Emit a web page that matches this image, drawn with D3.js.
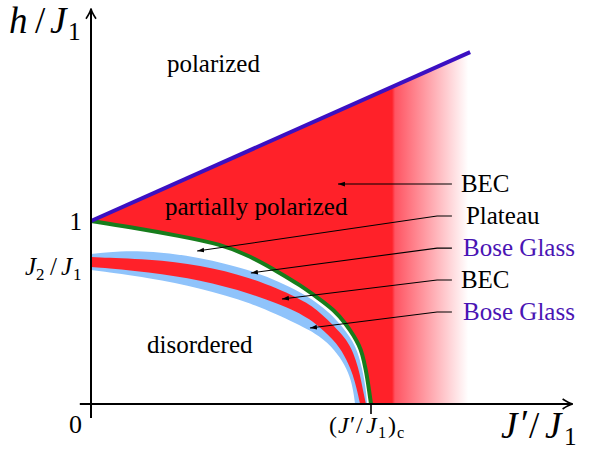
<!DOCTYPE html>
<html>
<head>
<meta charset="utf-8">
<script src="https://cdn.jsdelivr.net/npm/d3@7"></script>
<style>
body { margin: 0; background: #fff; }
text { font-family: "Liberation Serif", "DejaVu Serif", serif; }
</style>
</head>
<body>
<div id="chart"></div>
<script>
// phase boundaries, as [J'/J1, h/J1]
const saturationLine = [[0, 1], [1.354, 1.923]];
const plateauEdge = [[0, 1], [0.139, 0.967], [0.318, 0.918], [0.461, 0.874], [0.568, 0.809],
  [0.675, 0.716], [0.746, 0.650], [0.811, 0.579], [0.868, 0.514], [0.911, 0.437],
  [0.939, 0.372], [0.957, 0.322], [0.968, 0.279], [0.982, 0.186], [0.993, 0.077], [1, 0]];
const glassTop = [[0, 0.820], [0.104, 0.836], [0.211, 0.836], [0.389, 0.803], [0.568, 0.732],
  [0.675, 0.667], [0.746, 0.612], [0.804, 0.557], [0.854, 0.497], [0.896, 0.426],
  [0.925, 0.366], [0.943, 0.317], [0.957, 0.262], [0.971, 0.175], [0.982, 0.077], [0.986, 0]];
const becTop = [[0, 0.803], [0.211, 0.792], [0.389, 0.760], [0.568, 0.694], [0.746, 0.579],
  [0.818, 0.503], [0.871, 0.421], [0.907, 0.361], [0.929, 0.306], [0.946, 0.240],
  [0.961, 0.158], [0.971, 0.077], [0.982, 0]];
const becBottom = [[0, 0.749], [0.211, 0.721], [0.389, 0.678], [0.568, 0.607], [0.746, 0.503],
  [0.818, 0.421], [0.879, 0.333], [0.914, 0.240], [0.936, 0.158], [0.95, 0.077], [0.961, 0]];
const glassBottom = [[0, 0.732], [0.211, 0.689], [0.389, 0.634], [0.568, 0.557], [0.746, 0.432],
  [0.818, 0.372], [0.871, 0.295], [0.907, 0.213], [0.929, 0.131], [0.939, 0.049], [0.943, 0]];
const fadeFrom = 1.075;   // where the red BEC region starts to fade out

// region names
const regionNames = ["polarized", "partially polarized", "disordered"];
const regionPos = [[0.271, 1.814], [0.264, 1.033], [0.2, 0.279]];

// callouts on the right
const calloutNames = ["BEC", "Plateau", "Bose Glass", "BEC", "Bose Glass"];
const calloutColors = ["#000", "#000", "#4a14b4", "#000", "#4a14b4"];
const calloutLevel = [1.202, 1.027, 0.852, 0.678, 0.503];
const calloutTextX = [1.321, 1.339, 1.329, 1.321, 1.329];
const calloutTips = [[0.882, 1.202], [0.379, 0.836], [0.571, 0.716], [0.682, 0.574], [0.782, 0.415]];

const width = 590, height = 452;

const svg = d3.select("#chart").append("svg")
  .attr("width", width).attr("height", height)
  .attr("viewBox", [0, 0, width, height]);

const x = d3.scaleLinear().domain([0, 1]).range([91, 371]);
const y = d3.scaleLinear().domain([0, 1]).range([404, 221]);

const red = "#ff2129", lightBlue = "#8fc3fb";

const defs = svg.append("defs");
const xEnd = saturationLine[1][0];
const grad = defs.append("linearGradient")
  .attr("id", "fade").attr("gradientUnits", "userSpaceOnUse")
  .attr("x1", x(0)).attr("x2", x(xEnd)).attr("y1", 0).attr("y2", 0);
const fo = fadeFrom / xEnd;
grad.append("stop").attr("offset", 0).attr("stop-color", red);
grad.append("stop").attr("offset", fo).attr("stop-color", red);
grad.append("stop").attr("offset", fo + 0.008).attr("stop-color", "#ff5462");
grad.append("stop").attr("offset", 0.995).attr("stop-color", "#ffffff");

defs.append("marker").attr("id", "tip")
  .attr("markerUnits", "userSpaceOnUse")
  .attr("markerWidth", 8).attr("markerHeight", 6)
  .attr("refX", 7).attr("refY", 3).attr("orient", "auto")
  .append("path").attr("d", "M0,0.6L7,3L0,5.4Z").attr("fill", "#000");

const curve = d3.line().x(d => x(d[0])).y(d => y(d[1])).curve(d3.curveBasis);
// closes a boundary down to the origin corner
const under = pts => curve(pts) + `L${x(0)},${y(0)}Z`;

// red wedge under the saturation line
svg.append("path")
  .attr("d", `M${x(0)},${y(0)}L${x(0)},${y(1)}L${x(xEnd)},${y(saturationLine[1][1])}L${x(xEnd)},${y(0)}Z`)
  .attr("fill", "url(#fade)");

// layered bands, from the plateau edge inwards
svg.append("path").attr("d", under(plateauEdge)).attr("fill", "#fff");
svg.append("path").attr("d", under(glassTop)).attr("fill", lightBlue);
svg.append("path").attr("d", under(becTop)).attr("fill", red);
svg.append("path").attr("d", under(becBottom)).attr("fill", lightBlue);
svg.append("path").attr("d", under(glassBottom)).attr("fill", "#fff");

svg.append("path").attr("d", curve(plateauEdge))
  .attr("fill", "none").attr("stroke", "#177d1c").attr("stroke-width", 4);

svg.append("path").attr("d", d3.line().x(d => x(d[0])).y(d => y(d[1]))(saturationLine))
  .attr("fill", "none").attr("stroke", "#3b10c2").attr("stroke-width", 4);

// axes with arrow heads
const axisG = svg.append("g").attr("stroke", "#000").attr("fill", "none");
axisG.append("line").attr("x1", x(0)).attr("x2", x(0)).attr("y1", y(-0.077)).attr("y2", y(2.16))
  .attr("stroke-width", 2);
axisG.append("line").attr("x1", x(-0.04)).attr("x2", x(1.72)).attr("y1", y(0)).attr("y2", y(0))
  .attr("stroke-width", 2);
const ty = y(2.16), tx = x(1.72);
axisG.append("path").attr("stroke-width", 1.6)
  .attr("d", `M${x(0) - 5},${ty + 10}Q${x(0) - 1},${ty + 4} ${x(0)},${ty}Q${x(0) + 1},${ty + 4} ${x(0) + 5},${ty + 10}`);
axisG.append("path").attr("stroke-width", 1.6)
  .attr("d", `M${tx - 10},${y(0) - 5}Q${tx - 4},${y(0) - 1} ${tx},${y(0)}Q${tx - 4},${y(0) + 1} ${tx - 10},${y(0) + 5}`);
axisG.append("line").attr("x1", x(1)).attr("x2", x(1)).attr("y1", y(0)).attr("y2", y(0) + 10)
  .attr("stroke-width", 1.6);

// math labels: each part placed at its own x
function mathLabel(parts, baseY, size) {
  const t = svg.append("text").attr("y", baseY).attr("font-size", size);
  parts.forEach(p => {
    const s = t.append("tspan").attr("x", p.x).attr("y", baseY + (p.sub ? size * 0.2 : 0) - (p.raise || 0)).text(p.t);
    if (p.i) s.attr("font-style", "italic");
    if (p.sub) s.attr("font-size", size * 0.68);
  });
  return t;
}

mathLabel([{t: "h", i: 1, x: 9}, {t: "/", x: 35}, {t: "J", i: 1, x: 50}, {t: "1", sub: 1, x: 68}], 33, 37);
mathLabel([{t: "J", i: 1, x: 501}, {t: "′", x: 521, raise: 2}, {t: "/", x: 529}, {t: "J", i: 1, x: 545},
  {t: "1", sub: 1, x: 564}], 438, 37);
mathLabel([{t: "J", i: 1, x: 25}, {t: "2", sub: 1, x: 36}, {t: "/", x: 50}, {t: "J", i: 1, x: 61},
  {t: "1", sub: 1, x: 73}], y(0.75) + 8, 25);
mathLabel([{t: "(", x: 329}, {t: "J", i: 1, x: 338}, {t: "′", x: 350, raise: 1}, {t: "/", x: 356},
  {t: "J", i: 1, x: 366}, {t: "1", sub: 1, x: 378}, {t: ")", x: 388}, {t: "c", sub: 1, x: 397}], y(0) + 29, 24);

svg.append("text").attr("x", x(0) - 9).attr("y", y(1) + 9).attr("font-size", 25)
  .attr("text-anchor", "end").text("1");
svg.append("text").attr("x", x(0) - 9).attr("y", y(0) + 29).attr("font-size", 26)
  .attr("text-anchor", "end").text("0");

// region names
svg.selectAll(".region").data(regionNames).join("text")
  .attr("class", "region")
  .attr("x", (d, i) => x(regionPos[i][0]))
  .attr("y", (d, i) => y(regionPos[i][1]))
  .attr("font-size", 25).text(d => d);

// callouts with leader lines
const call = svg.selectAll(".call").data(calloutNames).join("g").attr("class", "call");
call.append("path")
  .attr("d", (d, i) => {
    const pts = [[1.289, calloutLevel[i]], [1.236, calloutLevel[i]], calloutTips[i]];
    return d3.line().x(p => x(p[0])).y(p => y(p[1]))(pts);
  })
  .attr("fill", "none").attr("stroke", "#000").attr("stroke-width", 1.1)
  .attr("marker-end", "url(#tip)");
call.append("text")
  .attr("x", (d, i) => x(calloutTextX[i]))
  .attr("y", (d, i) => y(calloutLevel[i]) + 8)
  .attr("font-size", 25)
  .attr("fill", (d, i) => calloutColors[i])
  .text(d => d);
</script>
</body>
</html>
